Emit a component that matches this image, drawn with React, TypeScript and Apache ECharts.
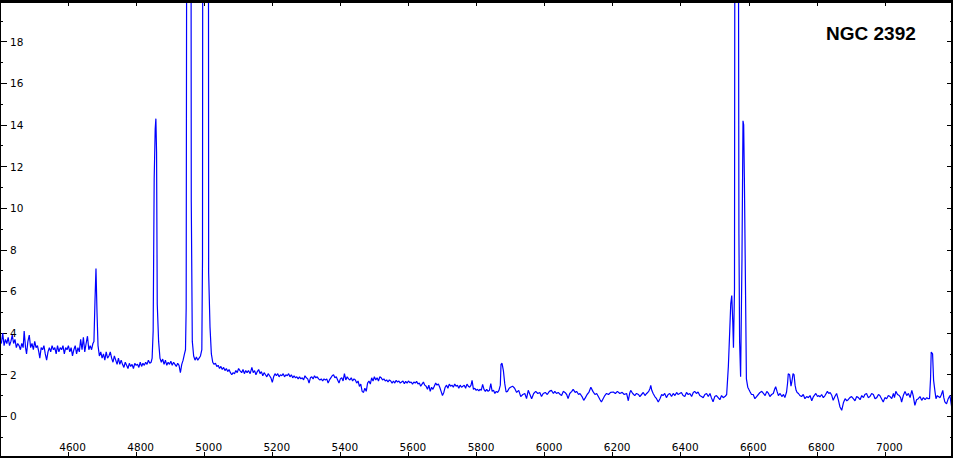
import { useEffect, useRef } from "react";
import * as echarts from "echarts";

// Spectrum of NGC 2392: [wavelength (Å), relative flux]
const segBlue: [number, number][] = [
  [4400, 3.6], [4404, 3.5], [4408, 4.0], [4412, 3.4], [4416, 3.7], [4420, 3.5], [4424, 3.8], [4428, 3.4],
  [4432, 3.6], [4436, 3.9], [4440, 3.5], [4444, 3.7], [4448, 3.3], [4452, 3.5], [4456, 3.4], [4460, 3.2],
  [4464, 3.5], [4468, 3.3], [4471, 4.1], [4475, 3.3], [4478, 3.0], [4482, 3.6], [4486, 3.9], [4490, 3.3],
  [4494, 3.5], [4498, 3.2], [4502, 3.6], [4506, 3.3], [4510, 3.4], [4514, 3.1], [4517, 2.8], [4521, 3.3],
  [4525, 3.2], [4529, 3.4], [4533, 3.0], [4537, 2.7], [4541, 3.1], [4545, 3.3], [4549, 3.1], [4553, 3.4],
  [4557, 3.2], [4561, 3.3], [4565, 3.0], [4569, 3.4], [4573, 3.1], [4577, 3.3], [4581, 3.2], [4585, 3.4],
  [4589, 3.0], [4593, 3.3], [4597, 3.2], [4601, 3.4], [4605, 3.1], [4609, 3.3], [4613, 2.9], [4617, 3.2],
  [4621, 3.4], [4625, 3.0], [4629, 3.3], [4633, 3.1], [4637, 3.7], [4641, 3.2], [4645, 3.8], [4649, 3.1],
  [4653, 3.5], [4657, 3.85], [4661, 3.2], [4665, 3.4], [4669, 3.2], [4673, 3.5], [4676, 3.6], [4679, 5.5],
  [4682, 7.1], [4685, 5.0], [4688, 3.4], [4692, 2.9], [4696, 3.1], [4700, 2.8], [4704, 3.0], [4708, 2.7],
  [4712, 3.1], [4716, 2.8], [4720, 2.9], [4724, 3.1], [4728, 2.8], [4732, 2.6], [4736, 2.9], [4740, 2.7],
  [4744, 2.5], [4748, 2.8], [4752, 2.5], [4756, 2.7], [4760, 2.5], [4764, 2.35], [4768, 2.6], [4772, 2.45],
  [4776, 2.3], [4780, 2.55], [4784, 2.4], [4788, 2.5], [4792, 2.3], [4796, 2.55], [4800, 2.45], [4804, 2.5],
  [4808, 2.35], [4812, 2.6], [4816, 2.4], [4820, 2.55], [4824, 2.45], [4828, 2.6], [4832, 2.5], [4836, 2.7],
  [4840, 2.55], [4844, 2.6], [4847, 2.8],
];

const segHbetaOIII: [number, number][] = [
  [4850, 4.1], [4853, 11.4], [4856, 13.8], [4858, 14.3], [4860, 12.7], [4862, 5.4], [4866, 3.6], [4870, 2.8],
  [4874, 2.6], [4878, 2.75], [4882, 2.5], [4886, 2.7], [4890, 2.45], [4894, 2.6], [4898, 2.5], [4902, 2.65],
  [4906, 2.45], [4910, 2.6], [4914, 2.5], [4918, 2.4], [4922, 2.55], [4926, 2.45], [4930, 2.1], [4934, 2.5],
  [4938, 2.7], [4942, 3.0], [4945, 3.2], [4947, 5.2], [4949, 30], [4953, 45], [4957, 40], [4961, 30],
  [4962, 10.3], [4965, 3.6], [4969, 2.9], [4973, 2.7], [4977, 2.85], [4981, 2.7], [4985, 2.8], [4989, 2.9],
  [4993, 3.2], [4995, 7.6], [4997, 60], [5002, 120], [5007, 130], [5012, 40], [5013, 6.9], [5017, 4.3],
  [5021, 3.0], [5025, 2.6],
];

const segGreen: [number, number][] = [
  [5029, 2.5], [5033, 2.55], [5037, 2.4], [5041, 2.45], [5045, 2.3], [5049, 2.4], [5053, 2.25], [5057, 2.35],
  [5061, 2.2], [5065, 2.3], [5069, 2.15], [5073, 2.25], [5077, 2.1], [5081, 2.0], [5085, 2.1], [5089, 2.05],
  [5093, 2.2], [5097, 2.1], [5101, 2.3], [5105, 2.2], [5110, 2.1], [5114, 2.25], [5118, 2.05], [5122, 2.2],
  [5126, 2.1], [5130, 2.2], [5135, 2.05], [5140, 2.35], [5144, 2.1], [5148, 2.2], [5152, 2.0], [5156, 2.15],
  [5160, 2.25], [5164, 2.05], [5168, 2.15], [5172, 1.95], [5176, 2.1], [5180, 2.0], [5184, 1.9], [5188, 2.05],
  [5192, 1.95], [5196, 1.85], [5200, 1.63], [5204, 1.9], [5208, 2.05], [5212, 1.95], [5216, 2.05], [5220, 1.9],
  [5224, 2.0], [5228, 1.95], [5232, 2.05], [5236, 1.9], [5240, 2.0], [5244, 1.95], [5248, 2.05], [5252, 1.9],
  [5256, 2.0], [5260, 1.85], [5264, 1.95], [5268, 1.85], [5272, 1.9], [5276, 1.8], [5280, 1.9], [5284, 1.8],
  [5288, 1.85], [5292, 1.75], [5296, 1.95], [5300, 1.85], [5304, 1.8], [5308, 1.6], [5312, 1.85], [5316, 1.9],
  [5320, 1.8], [5324, 1.95], [5328, 1.85], [5332, 1.9], [5336, 1.8], [5340, 1.75], [5344, 1.8], [5348, 1.7],
  [5352, 1.8], [5356, 1.75], [5360, 1.8], [5364, 1.6], [5368, 1.75], [5372, 1.85], [5376, 1.95], [5380, 2.0],
  [5384, 1.85], [5388, 1.9], [5392, 1.75], [5396, 1.6], [5400, 1.8], [5404, 1.85], [5408, 1.7], [5412, 2.05],
  [5416, 1.75], [5420, 1.9], [5424, 1.8], [5428, 1.75], [5432, 1.85], [5436, 1.7], [5440, 1.8], [5444, 1.75],
  [5448, 1.6], [5452, 1.7], [5456, 1.44], [5460, 1.55], [5464, 1.2], [5468, 1.15], [5472, 1.35], [5476, 1.2],
  [5480, 1.6], [5484, 1.7], [5488, 1.55], [5492, 1.85], [5496, 1.7], [5500, 1.9], [5504, 1.75], [5508, 1.85],
  [5512, 1.7], [5516, 1.9], [5520, 1.85], [5524, 1.75], [5528, 1.8], [5532, 1.7], [5536, 1.75], [5540, 1.65],
  [5544, 1.75], [5548, 1.7], [5552, 1.6], [5556, 1.7], [5560, 1.6], [5564, 1.73], [5568, 1.65], [5572, 1.7],
  [5576, 1.6], [5580, 1.65], [5584, 1.7], [5588, 1.57], [5592, 1.68], [5596, 1.6], [5600, 1.7], [5604, 1.62],
  [5608, 1.65], [5612, 1.55], [5616, 1.65], [5620, 1.6], [5624, 1.68], [5628, 1.55], [5632, 1.6], [5636, 1.45],
  [5640, 1.55], [5644, 1.65], [5648, 1.5], [5652, 1.45], [5656, 1.3], [5660, 1.5], [5664, 1.2], [5668, 1.4],
  [5672, 1.3], [5676, 1.45], [5680, 1.6], [5684, 1.5], [5688, 1.55], [5692, 1.4], [5696, 1.2], [5700, 1.0],
  [5704, 1.15], [5708, 1.4], [5712, 1.5], [5716, 1.35], [5720, 1.55], [5724, 1.45], [5728, 1.5], [5732, 1.4],
  [5736, 1.55], [5740, 1.45], [5744, 1.5], [5748, 1.35], [5752, 1.5], [5756, 1.4], [5760, 1.45], [5764, 1.5],
  [5768, 1.35], [5772, 1.55], [5776, 1.45], [5780, 1.4], [5784, 1.5], [5787, 1.73], [5791, 1.3], [5795, 1.35],
  [5799, 1.25], [5803, 1.3], [5807, 1.22],
];

const segYellow: [number, number][] = [
  [5810, 1.3], [5814, 1.25], [5818, 1.54], [5822, 1.3], [5826, 1.2], [5830, 1.3], [5834, 1.2], [5838, 1.25],
  [5842, 1.57], [5846, 1.2], [5850, 1.25], [5854, 1.1], [5858, 1.2], [5862, 1.15], [5866, 1.25], [5870, 1.5],
  [5872, 2.5], [5875, 2.55], [5879, 2.2], [5883, 1.57], [5887, 1.17], [5891, 1.2], [5896, 1.35], [5900, 1.4],
  [5906, 1.45], [5912, 1.35], [5918, 1.15], [5924, 1.25], [5930, 0.95], [5936, 1.05], [5942, 1.1], [5947, 0.85],
  [5952, 1.25], [5957, 1.05], [5962, 0.85], [5968, 1.1], [5974, 1.2], [5980, 1.1], [5986, 1.15], [5991, 0.95],
  [5996, 1.1], [6002, 1.15], [6008, 1.05], [6014, 1.2], [6020, 1.25], [6026, 1.1], [6030, 1.2], [6035, 1.1],
  [6040, 1.15], [6046, 1.05], [6050, 1.0], [6055, 1.2], [6060, 1.15], [6065, 1.05], [6069, 0.85], [6074, 1.1],
  [6080, 1.2], [6084, 1.3], [6090, 1.15], [6094, 1.2], [6100, 1.05], [6104, 1.1], [6110, 0.95], [6115, 0.77],
  [6120, 0.9], [6125, 1.05], [6130, 1.15], [6136, 1.4], [6142, 1.2], [6148, 1.05], [6153, 1.1], [6158, 0.95],
  [6163, 0.8], [6167, 0.69], [6172, 0.85], [6177, 1.0], [6182, 1.1], [6188, 1.05], [6194, 1.15], [6202, 1.17],
  [6208, 1.1], [6214, 1.2], [6221, 1.1], [6228, 1.15], [6234, 1.05], [6241, 1.1], [6246, 0.75], [6250, 1.1],
  [6253, 1.25], [6259, 1.1], [6265, 1.0], [6270, 1.1], [6276, 1.05], [6280, 0.95], [6285, 1.05], [6290, 1.15],
  [6295, 1.0], [6300, 1.1], [6306, 1.2], [6310, 1.35], [6312, 1.49], [6315, 1.25], [6319, 1.1], [6324, 0.95],
  [6329, 0.85], [6334, 0.69], [6339, 0.85], [6344, 1.05], [6348, 1.0], [6353, 1.1], [6358, 0.9], [6363, 1.05],
  [6368, 1.1], [6373, 0.95], [6378, 1.1], [6383, 1.0], [6388, 1.15], [6392, 1.05], [6397, 1.1], [6402, 1.15],
  [6407, 1.0], [6412, 0.95], [6417, 1.15], [6422, 1.05], [6427, 1.1], [6432, 0.95], [6437, 1.15], [6441, 1.2],
  [6446, 1.1], [6451, 1.17], [6456, 1.0], [6461, 0.95], [6466, 0.9], [6471, 1.05], [6476, 1.1], [6481, 0.95],
  [6486, 1.1], [6490, 0.9], [6495, 0.7], [6500, 0.95], [6505, 1.0], [6510, 0.9], [6515, 0.8], [6520, 1.0],
  [6525, 0.9], [6530, 0.95], [6535, 1.05],
];

const segHalpha: [number, number][] = [
  [6540, 2.4], [6544, 4.1], [6547, 5.4], [6550, 5.8], [6553, 4.5], [6555, 3.3], [6558, 6.1], [6560, 40],
  [6563, 70], [6566, 60], [6569, 30], [6571, 8.8], [6573, 3.6], [6576, 1.9], [6580, 7.6], [6583, 14.2],
  [6585, 14.0], [6587, 11.5], [6590, 6.7], [6593, 1.8], [6597, 1.4],
];

const segRed: [number, number][] = [
  [6600, 1.3], [6604, 1.17], [6608, 1.05], [6613, 1.05], [6618, 0.85], [6623, 0.95], [6628, 1.05], [6633, 1.15],
  [6638, 1.2], [6643, 1.1], [6648, 1.0], [6653, 1.2], [6658, 1.1], [6662, 0.95], [6667, 1.05], [6672, 1.1],
  [6676, 1.3], [6679, 1.43], [6683, 1.2], [6687, 1.0], [6692, 1.1], [6697, 0.95], [6702, 1.05], [6706, 0.9],
  [6711, 1.17], [6714, 1.6], [6716, 2.05], [6720, 2.0], [6724, 1.45], [6727, 1.7], [6730, 2.05], [6733, 2.0],
  [6736, 1.5], [6739, 1.25], [6742, 1.15], [6746, 1.1], [6750, 1.0], [6755, 0.95], [6760, 1.05], [6765, 0.85],
  [6770, 0.95], [6775, 0.9], [6780, 1.0], [6785, 0.75], [6790, 0.95], [6797, 1.1], [6802, 0.95], [6806, 1.0],
  [6809, 0.93], [6814, 1.05], [6819, 0.9], [6824, 1.0], [6831, 1.2], [6835, 1.1], [6839, 1.15], [6844, 1.0],
  [6848, 0.77], [6853, 0.95], [6858, 1.1], [6863, 0.8], [6868, 0.45], [6873, 0.29], [6878, 0.65], [6883, 0.85],
  [6888, 0.75], [6892, 0.8], [6897, 0.9], [6902, 0.95], [6907, 0.85], [6912, 0.75], [6917, 0.95], [6922, 0.9],
  [6927, 0.8], [6932, 1.0], [6937, 0.9], [6941, 1.05], [6946, 1.1], [6951, 0.9], [6956, 0.95], [6961, 1.1],
  [6966, 1.05], [6971, 0.85], [6976, 0.9], [6981, 1.05], [6985, 1.0], [6990, 0.85], [6995, 0.69], [7000, 0.9],
  [7005, 0.85], [7010, 1.0], [7015, 0.95], [7020, 0.85], [7025, 1.1], [7028, 0.9], [7032, 1.2], [7037, 1.05],
  [7042, 1.0], [7046, 0.9], [7049, 0.69], [7054, 1.0], [7059, 1.2], [7064, 1.0], [7069, 1.1], [7074, 0.9],
  [7079, 1.25], [7083, 1.0], [7088, 0.53], [7093, 0.8], [7098, 0.85], [7103, 0.95], [7108, 0.77], [7113, 0.9],
  [7118, 0.8], [7123, 0.9], [7127, 0.85], [7131, 0.85], [7134, 1.8], [7136, 3.09], [7140, 3.0], [7143, 1.73],
  [7147, 1.2], [7150, 0.85], [7154, 1.0], [7157, 0.95], [7162, 0.9], [7166, 1.05], [7170, 1.25], [7173, 0.9],
  [7176, 0.7], [7181, 0.6], [7186, 0.85], [7191, 1.0], [7196, 0.45], [7200, 0.45],
];

const xMin = 4400;
const xMax = 7200;
const xStep = 200;
const yMin = -2;
const yMax = 20;
const yStep = 2;
const titleText = "NGC 2392";

const W = 953;
const H = 458;

export default function App() {
  const ref = useRef<HTMLDivElement>(null);

  useEffect(() => {
    document.body.style.margin = "0";
    const el = ref.current!;
    const chart = echarts.init(el, null, { renderer: "svg" });
    const data = [...segBlue, ...segHbetaOIII, ...segGreen, ...segYellow, ...segHalpha, ...segRed];
    const labelFont = { fontFamily: "DejaVu Sans", fontSize: 10.5, color: "#000" };
    const tickStyle = { color: "#000", width: 1 };
    const plain = (v: number) => String(v);

    chart.setOption({
      animation: false,
      backgroundColor: "#ffffff",
      grid: { left: 0, right: 0, top: 0, bottom: 0, containLabel: false },
      xAxis: [
        {
          type: "value",
          position: "bottom",
          min: xMin,
          max: xMax,
          interval: xStep,
          axisLine: { show: false, onZero: false },
          splitLine: { show: false },
          axisTick: { show: true, inside: true, length: 6, lineStyle: tickStyle },
          axisLabel: {
            inside: true,
            margin: 6,
            showMinLabel: false,
            showMaxLabel: false,
            padding: [0, 0, 0, 9],
            formatter: plain,
            ...labelFont,
          },
        },
        {
          type: "value",
          position: "top",
          min: xMin,
          max: xMax,
          interval: xStep,
          axisLine: { show: false, onZero: false },
          splitLine: { show: false },
          axisTick: { show: true, inside: true, length: 6, lineStyle: tickStyle },
          axisLabel: { show: false },
        },
      ],
      yAxis: [
        {
          type: "value",
          position: "left",
          min: yMin,
          max: yMax,
          interval: yStep,
          axisLine: { show: false, onZero: false },
          splitLine: { show: false },
          axisTick: { show: true, inside: true, length: 7, lineStyle: tickStyle },
          minorTick: { show: true, splitNumber: 2, length: 3, lineStyle: tickStyle },
          axisLabel: {
            inside: true,
            margin: 10,
            showMinLabel: false,
            showMaxLabel: false,
            formatter: plain,
            ...labelFont,
          },
        },
        {
          type: "value",
          position: "right",
          min: yMin,
          max: yMax,
          interval: yStep,
          axisLine: { show: false, onZero: false },
          splitLine: { show: false },
          axisTick: { show: true, inside: true, length: 6, lineStyle: tickStyle },
          minorTick: { show: true, splitNumber: 2, length: 3, lineStyle: tickStyle },
          axisLabel: { show: false },
        },
      ],
      series: [
        {
          type: "line",
          xAxisIndex: 0,
          yAxisIndex: 0,
          data,
          symbol: "none",
          clip: true,
          lineStyle: { color: "#0000ff", width: 1.2 },
          z: 2,
        },
      ],
      graphic: [
        { type: "rect", z: 100, shape: { x: 0, y: 0, width: W, height: 3 }, style: { fill: "#000" } },
        { type: "rect", z: 100, shape: { x: 0, y: H - 2, width: W, height: 2 }, style: { fill: "#000" } },
        { type: "rect", z: 100, shape: { x: 0, y: 0, width: 1, height: H }, style: { fill: "#000" } },
        { type: "rect", z: 100, shape: { x: W - 2, y: 0, width: 2, height: H }, style: { fill: "#000" } },
        {
          type: "text",
          z: 100,
          x: 826,
          y: 33.5,
          style: {
            text: titleText,
            fill: "#000",
            fontSize: 19,
            fontWeight: "bold",
            fontFamily: "Liberation Sans",
            align: "left",
            verticalAlign: "middle",
          },
        },
      ],
    });

    return () => chart.dispose();
  }, []);

  return <div ref={ref} style={{ width: W, height: H, position: "absolute", left: 0, top: 0 }} />;
}
